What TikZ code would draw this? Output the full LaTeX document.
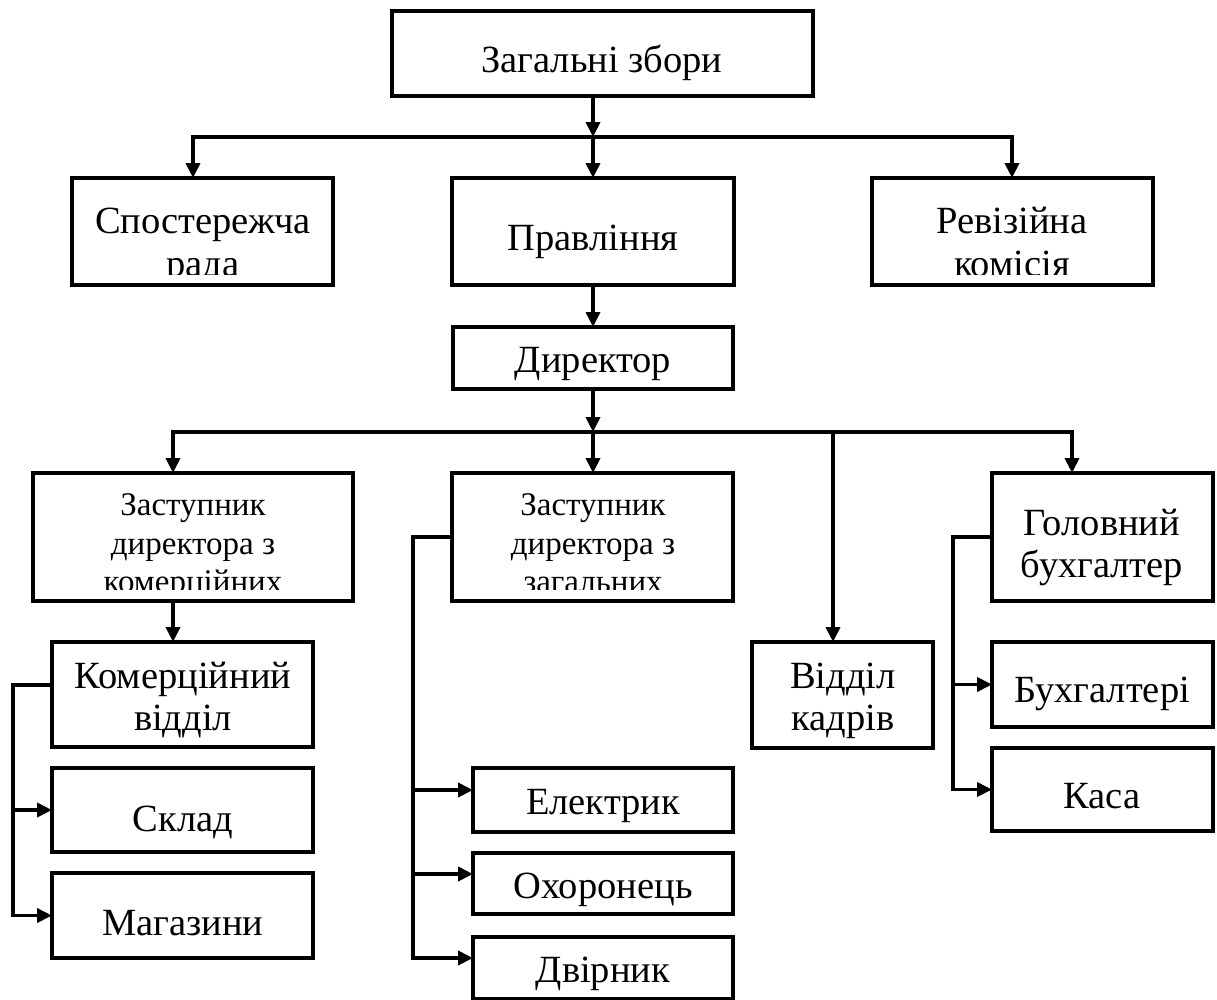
\documentclass[tikz,border=0pt]{standalone}
\usepackage{fontspec}
\setmainfont{Liberation Serif}
\usetikzlibrary{arrows.meta}
\newcommand\bx[5]{\node[box, minimum width={(#4-#2)*1pt}, minimum height={(#5-#3)*1pt}] (#1) at ({(#2+#4)/2},{(#3+#5)/2}) {};}
\begin{document}
\begin{tikzpicture}[x=1pt,y=-1pt,
  box/.style={draw, line width=4pt, inner sep=0pt, outer sep=0pt},
  lbl/.style={anchor=base, inner sep=0pt, font=\fontsize{38.5}{40}\selectfont},
  slbl/.style={anchor=base, inner sep=0pt, font=\fontsize{33}{34}\selectfont},
  arr/.style={line width=3.8pt, line join=miter, -{Triangle[length=15pt,width=14pt]}}]
\useasboundingbox (0,0) rectangle (1217,999);
% boxes
\bx{zz}{392}{11}{813}{96}
\bx{sr}{72}{178}{333}{285}
\bx{pr}{452}{178}{734}{285}
\bx{rk}{872}{178}{1153}{285}
\bx{dr}{453}{327}{733}{389}
\bx{zk}{33}{473}{353}{601}
\bx{zg}{452}{473}{733}{601}
\bx{gb}{992}{473}{1213}{601}
\bx{kv}{52}{642}{313}{747}
\bx{sk}{52}{768}{313}{852}
\bx{mg}{52}{873}{313}{958}
\bx{vk}{752}{642}{933}{748}
\bx{bu}{992}{642}{1213}{727}
\bx{ka}{992}{748}{1213}{831}
\bx{el}{473}{768}{733}{832}
\bx{oh}{473}{853}{733}{914}
\bx{dv}{473}{937}{733}{999}
% texts
\node[lbl] (zz-t) at (602,72) {Загальні збори};
\node[lbl] (sr-t1) at (203,233) {Спостережча};
\begin{scope}
\clip (72,178) rectangle (333,274);
\node[lbl] (sr-t2) at (203,276) {рада};
\end{scope}
\node[lbl] (pr-t) at (593,250) {Правління};
\node[lbl] (rk-t1) at (1012,233) {Ревізійна};
\begin{scope}
\clip (872,178) rectangle (1153,274);
\node[lbl] (rk-t2) at (1012,276) {комісія};
\end{scope}
\node[lbl] (dr-t) at (593,372) {Директор};
\node[slbl] (zk-t1) at (193,515) {Заступник};
\node[slbl] (zk-t2) at (193,554) {директора з};
\begin{scope}
\clip (33,473) rectangle (353,589);
\node[slbl] (zk-t3) at (193,592) {комерційних};
\end{scope}
\node[slbl] (zg-t1) at (593,515) {Заступник};
\node[slbl] (zg-t2) at (593,554) {директора з};
\begin{scope}
\clip (452,473) rectangle (733,589);
\node[slbl] (zg-t3) at (593,592) {загальних};
\end{scope}
\node[lbl] (gb-t1) at (1102,535) {Головний};
\node[lbl] (gb-t2) at (1102,577) {бухгалтер};
\node[lbl] (kv-t1) at (183,688) {Комерційний};
\node[lbl] (kv-t2) at (183,730) {відділ};
\node[lbl] (sk-t) at (183,831) {Склад};
\node[lbl] (mg-t) at (183,935) {Магазини};
\node[lbl] (vk-t1) at (843,688) {Відділ};
\node[lbl] (vk-t2) at (843,730) {кадрів};
\node[lbl] (bu-t) at (1102,702) {Бухгалтері};
\node[lbl] (ka-t) at (1102,808) {Каса};
\node[lbl] (el-t) at (603,814) {Електрик};
\node[lbl] (oh-t) at (603,898) {Охоронець};
\node[lbl] (dv-t) at (603,982) {Двірник};
% junctions
\coordinate (j1) at (593,137);
\coordinate (c1) at (193,137);
\coordinate (c3) at (1012,137);
\coordinate (j2) at (593,432);
\coordinate (c4) at (173,432);
\coordinate (c5) at (1072,432);
\coordinate (c6) at (833,432);
\coordinate (k0) at (13,685);
\coordinate (z0) at (413,537);
\coordinate (z1) at (413,790);
\coordinate (z2) at (413,874);
\coordinate (z3) at (413,958);
\coordinate (g0) at (953,537);
% connectors
\draw[arr] (zz.south -| j1) -- (j1);
\draw[arr] (j1) -| (sr.north -| c1);
\draw[arr] (j1) -| (rk.north -| c3);
\draw[arr] (j1) -- (pr.north -| j1);
\draw[arr] (pr.south -| j1) -- (dr.north -| j1);
\draw[arr] (dr.south -| j2) -- (j2);
\draw[arr] (j2) -| (zk.north -| c4);
\draw[arr] (j2) -| (gb.north -| c5);
\draw[arr] (j2) -- (zg.north -| j2);
\draw[arr] (c6) -- (vk.north -| c6);
\draw[arr] (zk.south -| c4) -- (kv.north -| c4);
\draw[arr] (kv.west |- k0) -- (k0) |- (mg.west);
\draw[arr] (k0 |- sk.west) -- (sk.west);
\draw[arr] (zg.west |- z0) -- (z0) -- (z3) -- (z3 -| dv.west);
\draw[arr] (z1) -- (z1 -| el.west);
\draw[arr] (z2) -- (z2 -| oh.west);
\draw[arr] (gb.west |- g0) -- (g0) |- (ka.west);
\draw[arr] (g0 |- bu.west) -- (bu.west);
\end{tikzpicture}
\end{document}
